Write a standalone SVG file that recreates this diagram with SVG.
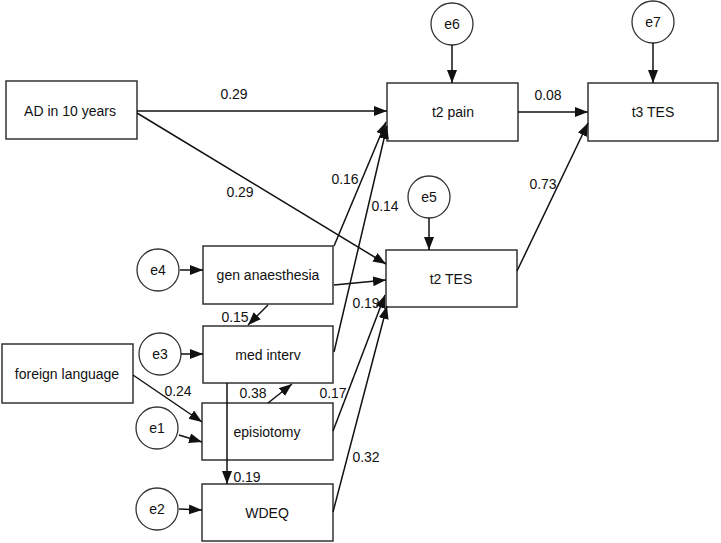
<svg xmlns="http://www.w3.org/2000/svg" width="721" height="543" viewBox="0 0 721 543">
<defs>
<marker id="ah" markerUnits="userSpaceOnUse" markerWidth="14" markerHeight="11" refX="13" refY="5" orient="auto">
<path d="M0,0 L13,5 L0,10 z" fill="#111"/>
</marker>
<style>
.box{fill:#fff;stroke:#333;stroke-width:1.5}
.circ{fill:#fff;stroke:#333;stroke-width:1.3}
.t{font-family:"Liberation Sans",Arial,sans-serif;font-size:14px;fill:#111;text-anchor:middle}
.c{fill:none;stroke:#111;stroke-width:1.5;marker-end:url(#ah)}
</style>
</defs>
<rect width="721" height="543" fill="#fff"/>
<g id="ad"><rect class="box" x="6" y="81" width="131" height="58"/><text class="t" x="70" y="116">AD in 10 years</text></g>
<g id="t2pain"><rect class="box" x="387" y="83" width="131" height="58"/><text class="t" x="453" y="117">t2 pain</text></g>
<g id="t3tes"><rect class="box" x="588" y="83" width="130" height="58"/><text class="t" x="653" y="117">t3 TES</text></g>
<g id="t2tes"><rect class="box" x="386" y="250" width="131" height="57"/><text class="t" x="451" y="284">t2 TES</text></g>
<g id="gen"><rect class="box" x="203" y="246" width="130" height="58"/><text class="t" x="268" y="280">gen anaesthesia</text></g>
<g id="med"><rect class="box" x="203" y="326" width="130" height="57"/><text class="t" x="268" y="360">med interv</text></g>
<g id="epis"><rect class="box" x="202" y="403" width="131" height="57"/><text class="t" x="267" y="437">episiotomy</text></g>
<g id="wdeq"><rect class="box" x="202" y="484" width="131" height="57"/><text class="t" x="267" y="518">WDEQ</text></g>
<g id="foreign"><rect class="box" x="2" y="344" width="131" height="59"/><text class="t" x="67" y="379">foreign language</text></g>
<g id="e6"><circle class="circ" cx="452" cy="24" r="21"/><text class="t" x="452" y="29">e6</text></g>
<g id="e7"><circle class="circ" cx="653" cy="22" r="21"/><text class="t" x="653" y="27">e7</text></g>
<g id="e5"><circle class="circ" cx="429" cy="197" r="21"/><text class="t" x="429" y="202">e5</text></g>
<g id="e4"><circle class="circ" cx="158" cy="270" r="21"/><text class="t" x="158" y="275">e4</text></g>
<g id="e3"><circle class="circ" cx="160" cy="354" r="21"/><text class="t" x="160" y="359">e3</text></g>
<g id="e1"><circle class="circ" cx="157" cy="428" r="21"/><text class="t" x="157" y="433">e1</text></g>
<g id="e2"><circle class="circ" cx="157" cy="509" r="21"/><text class="t" x="157" y="514">e2</text></g>
<g id="connectors">
<path class="c" d="M137,111 L387,111"/>
<path class="c" d="M137,113 L386,264"/>
<path class="c" d="M452,45 L452,83"/>
<path class="c" d="M653,43 L653,83"/>
<path class="c" d="M518,112 L588,112"/>
<path class="c" d="M517,271 L588,123"/>
<path class="c" d="M429,218 L429,250"/>
<path class="c" d="M334,246 L386,122"/>
<path class="c" d="M334,352 L387,126"/>
<path class="c" d="M334,285 L386,280"/>
<path class="c" d="M268,305 L248,325"/>
<path class="c" d="M180,270 L203,270"/>
<path class="c" d="M181,354 L203,354"/>
<path class="c" d="M227,383 L227,484"/>
<path class="c" d="M268,403 L292,384"/>
<path class="c" d="M133,375 L202,422"/>
<path class="c" d="M179,435 L202,442"/>
<path class="c" d="M179,509 L202,510"/>
<path class="c" d="M333,431 L385,295"/>
<path class="c" d="M333,512 L387,306"/>
<text class="t" x="234" y="99">0.29</text>
<text class="t" x="240" y="197">0.29</text>
<text class="t" x="548" y="100">0.08</text>
<text class="t" x="543" y="189">0.73</text>
<text class="t" x="345" y="184">0.16</text>
<text class="t" x="385" y="211">0.14</text>
<text class="t" x="235" y="322">0.15</text>
<text class="t" x="247" y="482">0.19</text>
<text class="t" x="253" y="398">0.38</text>
<text class="t" x="178" y="396">0.24</text>
<text class="t" x="333" y="398">0.17</text>
<text class="t" x="366" y="308">0.19</text>
<text class="t" x="366" y="462">0.32</text>
</g>
</svg>
